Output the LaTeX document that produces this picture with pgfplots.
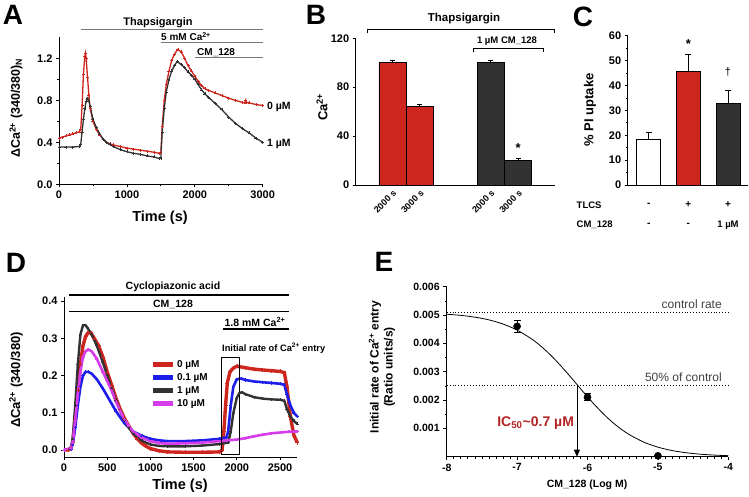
\documentclass[border=0pt]{standalone}
\usepackage{pgfplots}
\pgfplotsset{compat=1.18}
\usepackage{fontspec}
\setmainfont{Liberation Sans}
\usetikzlibrary{arrows.meta}
\definecolor{cred}{RGB}{205,38,30}
\definecolor{cdark}{RGB}{50,50,50}
\definecolor{cblue}{RGB}{30,30,235}
\definecolor{cmag}{RGB}{215,60,235}
\definecolor{cline}{RGB}{120,120,120}
\definecolor{icred}{RGB}{180,35,35}
\pgfplotsset{
  panel/.style={scale only axis, axis lines=left, axis line style={-, line width=0.8pt},
    tick align=outside, tick style={line width=0.7pt, black},
    major tick length=3pt, minor tick length=2pt,
    /pgf/number format/assume math mode=true,
    ticklabel style={font=\bfseries\fontsize{11}{11}\selectfont},
    clip=false},
}
\begin{document}
\begin{tikzpicture}[x=1pt,y=1pt]
\path[use as bounding box] (0,0) rectangle (749,497);
% ---------------- Panel letters
\node[font=\bfseries\fontsize{28}{28}\selectfont] at (13,482) {A};
\node[font=\bfseries\fontsize{28}{28}\selectfont] at (316,482) {B};
\node[font=\bfseries\fontsize{28}{28}\selectfont] at (583,480) {C};
\node[font=\bfseries\fontsize{28}{28}\selectfont] at (16,234) {D};
\node[font=\bfseries\fontsize{28}{28}\selectfont] at (384,235) {E};
% ---------------- Panel A
\begin{axis}[panel, at={(59pt,312.7pt)}, anchor=south west, width=203.7pt, height=147pt,
  xmin=0, xmax=3000, ymin=0, ymax=1.4,
  xtick={0,1000,2000,3000}, minor x tick num=1,
  ytick={0,0.4,0.8,1.2}, minor y tick num=1,
  yticklabel style={/pgf/number format/.cd, fixed, fixed zerofill, precision=1},
  xticklabel style={/pgf/number format/.cd, set thousands separator={}}]
\addplot[cred, line width=1.3pt, mark=+, mark size=1.5pt, mark options={line width=0.5pt}] table {
0 0.44
50 0.45
100 0.46
150 0.47
200 0.48
250 0.49
300 0.50
320 0.52
340 0.75
360 1.05
380 1.22
390 1.25
400 1.20
420 1.02
440 0.85
460 0.72
500 0.60
550 0.52
600 0.47
650 0.43
700 0.40
750 0.385
800 0.375
900 0.36
1000 0.345
1100 0.335
1200 0.325
1300 0.315
1400 0.305
1480 0.295
1500 0.30
1520 0.55
1550 0.80
1580 0.95
1620 1.08
1660 1.18
1700 1.24
1750 1.285
1800 1.26
1850 1.20
1900 1.13
1950 1.08
2000 1.03
2050 0.98
2100 0.94
2150 0.91
2200 0.895
2300 0.87
2400 0.845
2500 0.82
2600 0.80
2700 0.78
2740 0.775
2750 0.80
2760 0.78
2800 0.775
2900 0.76
3000 0.75
};
\addplot[cdark, line width=1.3pt, mark=+, mark size=1.5pt, mark options={line width=0.5pt}] table {
0 0.355
100 0.355
200 0.355
300 0.36
320 0.38
340 0.50
360 0.62
380 0.72
400 0.79
415 0.82
440 0.79
460 0.74
500 0.62
550 0.54
600 0.48
650 0.43
700 0.40
750 0.38
800 0.36
900 0.33
1000 0.31
1100 0.295
1200 0.285
1300 0.27
1400 0.26
1480 0.245
1500 0.25
1520 0.50
1550 0.72
1580 0.88
1620 1.00
1660 1.08
1700 1.13
1740 1.17
1800 1.14
1850 1.11
1900 1.07
1950 1.04
2000 1.00
2050 0.95
2100 0.90
2150 0.86
2200 0.83
2300 0.77
2400 0.71
2500 0.64
2600 0.58
2700 0.53
2800 0.49
2900 0.44
3000 0.40
};
\end{axis}
\node[rotate=90, font=\bfseries\fontsize{12.5}{12.5}\selectfont] at (16,389) {Δ\kern-0.5ptCa\textsuperscript{2+} (340/380)\textsubscript{N}};
\node[font=\bfseries\fontsize{14.5}{14.5}\selectfont] at (160,279) {Time (s)};
\draw[cline, line width=1.2pt] (81,467.7) -- (263,467.7);
\node[font=\bfseries\fontsize{11}{11}\selectfont] at (158,474.5) {Thapsigargin};
\draw[cline, line width=1.2pt] (161,454.7) -- (263,454.7);
\node[anchor=west, inner sep=0pt, font=\bfseries\fontsize{10}{10}\selectfont] at (161,460.5) {5 mM Ca\textsuperscript{2+}};
\draw[cline, line width=1.2pt] (195,439.3) -- (263,439.3);
\node[anchor=west, inner sep=0pt, font=\bfseries\fontsize{10}{10}\selectfont] at (197,444.5) {CM\_128};
\node[anchor=west, inner sep=0pt, font=\bfseries\fontsize{10.5}{10.5}\selectfont] at (267,390) {0 µM};
\node[anchor=west, inner sep=0pt, font=\bfseries\fontsize{10.5}{10.5}\selectfont] at (267,353) {1 µM};
% ---------------- Panel B
\begin{axis}[panel, at={(355.7pt,312pt)}, anchor=south west, width=199.3pt, height=146.7pt,
  xmin=0, xmax=7.3, ymin=0, ymax=120, ytick={0,40,80,120},
  xtick={1.35,2.35,4.95,5.95}, xticklabels={2000 s,3000 s,2000 s,3000 s},
  xtick style={draw=none},
  xticklabel style={rotate=45, anchor=north east, font=\bfseries\fontsize{9}{9}\selectfont, inner sep=1pt},
  ybar, bar width=1, bar shift=0pt,
  error bars/y dir=plus, error bars/y explicit,
  error bars/error bar style={line width=0.8pt, black},
  error bars/error mark options={rotate=90, mark size=2.5pt, line width=0.8pt}]
\addplot[draw=black, line width=0.8pt, fill=cred] coordinates {(1.35,100) +- (0,2) (2.35,64) +- (0,1.8)};
\addplot[draw=black, line width=0.8pt, fill=cdark] coordinates {(4.95,100) +- (0,1.8) (5.95,20) +- (0,2)};
\node[font=\bfseries\fontsize{13}{13}\selectfont] at (axis cs:5.95,30) {*};
\end{axis}
\node[rotate=90, font=\bfseries\fontsize{13}{13}\selectfont] at (322,390) {Ca\textsuperscript{2+}};
\draw[black, line width=0.8pt] (367.7,463.7) -- (367.7,467.7) -- (554.3,467.7) -- (554.3,463.7);
\node[font=\bfseries\fontsize{11.5}{11.5}\selectfont] at (464,478) {Thapsigargin};
\draw[black, line width=0.8pt] (473.3,445.3) -- (473.3,448.5) -- (543.3,448.5) -- (543.3,445.3);
\node[font=\bfseries\fontsize{9.5}{9.5}\selectfont] at (507,455.5) {1 µM CM\_128};
% ---------------- Panel C
\begin{axis}[panel, at={(627.7pt,312pt)}, anchor=south west, width=120.3pt, height=149.3pt,
  xmin=0, xmax=120.3, ymin=0, ymax=60, ytick={0,10,...,60}, minor y tick num=1,
  xtick=\empty,
  ybar, bar width=24, bar shift=0pt,
  error bars/y dir=plus, error bars/y explicit,
  error bars/error bar style={line width=0.8pt, black},
  error bars/error mark options={rotate=90, mark size=3pt, line width=0.8pt}]
\addplot[draw=black, line width=0.8pt, fill=white] coordinates {(21,18.2) +- (0,2.8)};
\addplot[draw=black, line width=0.8pt, fill=cred] coordinates {(60.6,45.5) +- (0,6.8)};
\addplot[draw=black, line width=0.8pt, fill=cdark] coordinates {(100.3,32.7) +- (0,5.3)};
\node[font=\bfseries\fontsize{13}{13}\selectfont] at (axis cs:60.6,56.5) {*};
\node[font=\fontsize{11}{11}\selectfont] at (axis cs:100.3,45.5) {\dag};
\end{axis}
\node[rotate=90, font=\bfseries\fontsize{13}{13}\selectfont] at (590,387) {\% PI uptake};
\node[anchor=west, inner sep=0pt, font=\bfseries\fontsize{9.5}{9.5}\selectfont] at (576.5,292) {TLCS};
\node[anchor=west, inner sep=0pt, font=\bfseries\fontsize{9.5}{9.5}\selectfont] at (576.5,272) {CM\_128};
\node[font=\bfseries\fontsize{10}{10}\selectfont] at (648.7,292) {-};
\node[font=\bfseries\fontsize{10}{10}\selectfont] at (688.3,292) {+};
\node[font=\bfseries\fontsize{10}{10}\selectfont] at (728,292) {+};
\node[font=\bfseries\fontsize{10}{10}\selectfont] at (648.7,272) {-};
\node[font=\bfseries\fontsize{10}{10}\selectfont] at (688.3,272) {-};
\node[font=\bfseries\fontsize{9.5}{9.5}\selectfont] at (728,272) {1 µM};
% ---------------- Panel D
\begin{axis}[panel, at={(64pt,39.5pt)}, anchor=south west, width=233.3pt, height=160.2pt,
  xmin=0, xmax=2700, ymin=-0.02, ymax=0.41,
  xtick={0,500,...,2500}, ytick={0,0.1,...,0.4},
  yticklabel style={/pgf/number format/.cd, fixed, fixed zerofill, precision=1},
  xticklabel style={/pgf/number format/.cd, set thousands separator={}},
  legend style={draw=none, fill=none, at={(0.37,0.62)}, anchor=north west,
    font=\bfseries\fontsize{10}{10}\selectfont, row sep=0.5pt, inner sep=0pt,
    /tikz/every even column/.append style={column sep=3pt}},
  legend cell align=left,
  legend image code/.code={\draw[#1, line width=4.5pt, mark=none] (0pt,0pt) -- (20pt,0pt);}]
\addplot[cred, line width=3.4pt, mark=+, mark size=2pt, mark options={line width=0.5pt}] table {
0 0.0
50 0.0
80 0.005
100 0.02
130 0.08
160 0.16
190 0.23
220 0.28
250 0.305
280 0.315
310 0.315
350 0.30
400 0.28
450 0.25
500 0.21
550 0.175
600 0.14
650 0.11
700 0.085
750 0.065
800 0.045
850 0.03
900 0.018
950 0.01
1000 0.004
1100 -0.002
1200 -0.005
1400 -0.006
1600 -0.006
1800 -0.005
1830 0.0
1850 0.05
1870 0.12
1890 0.18
1920 0.21
1960 0.22
2000 0.225
2100 0.221
2200 0.217
2300 0.215
2400 0.213
2500 0.211
2550 0.208
2580 0.17
2620 0.09
2660 0.04
2700 0.02
};
\addlegendentry{0 µM}
\addplot[cblue, line width=2.6pt, mark=+, mark size=1.6pt, mark options={line width=0.5pt}] table {
0 0
80 0.003
100 0.015
130 0.06
160 0.12
190 0.17
220 0.2
250 0.21
280 0.21
320 0.205
380 0.19
450 0.165
500 0.145
550 0.125
600 0.105
650 0.088
700 0.072
750 0.06
800 0.05
900 0.038
1000 0.03
1100 0.026
1200 0.024
1400 0.024
1600 0.026
1800 0.03
1880 0.034
1900 0.05
1930 0.12
1960 0.17
2000 0.19
2050 0.192
2100 0.188
2200 0.184
2300 0.182
2400 0.18
2500 0.178
2550 0.175
2580 0.15
2620 0.12
2660 0.10
2700 0.09
};
\addlegendentry{0.1 µM}
\addplot[cdark, line width=2.4pt, mark=+, mark size=1.5pt, mark options={line width=0.5pt}] table {
0 0
80 0.005
100 0.03
130 0.12
160 0.23
190 0.31
220 0.335
250 0.335
280 0.325
320 0.31
380 0.28
450 0.235
500 0.2
550 0.165
600 0.135
650 0.105
700 0.08
750 0.06
800 0.045
900 0.025
1000 0.015
1100 0.011
1200 0.01
1400 0.01
1600 0.012
1800 0.016
1900 0.02
1930 0.05
1960 0.1
2000 0.14
2030 0.153
2060 0.155
2100 0.15
2200 0.142
2300 0.138
2400 0.136
2500 0.135
2550 0.132
2580 0.11
2620 0.09
2660 0.078
2700 0.07
};
\addlegendentry{1 µM}
\addplot[cmag, line width=2.6pt, mark=+, mark size=1.6pt, mark options={line width=0.5pt}] table {
0 0
80 0.004
100 0.02
130 0.08
160 0.15
190 0.21
220 0.25
250 0.265
280 0.27
320 0.265
380 0.245
450 0.21
500 0.185
550 0.16
600 0.13
650 0.105
700 0.083
750 0.065
800 0.05
900 0.033
1000 0.024
1100 0.019
1200 0.017
1400 0.018
1600 0.02
1800 0.024
2000 0.028
2100 0.032
2200 0.037
2300 0.041
2400 0.045
2500 0.047
2600 0.049
2700 0.05
};
\addlegendentry{10 µM}
\draw[black, line width=0.8pt] (axis cs:1820,-0.011) rectangle (axis cs:2030,0.25);
\end{axis}
\node[rotate=90, font=\bfseries\fontsize{13}{13}\selectfont] at (16,117) {Δ\kern-0.5ptCa\textsuperscript{2+} (340/380)};
\node[font=\bfseries\fontsize{14.5}{14.5}\selectfont] at (180,11) {Time (s)};
\draw[black, line width=1.2pt] (69.3,202) -- (289.3,202);
\node[font=\bfseries\fontsize{10.5}{10.5}\selectfont] at (173,210) {Cyclopiazonic acid};
\draw[black, line width=1.2pt] (69.3,185.3) -- (289.3,185.3);
\node[font=\bfseries\fontsize{10.5}{10.5}\selectfont] at (173,193) {CM\_128};
\draw[black, line width=1.2pt] (222.7,168) -- (289.3,168);
\node[font=\bfseries\fontsize{10.5}{10.5}\selectfont] at (255,175) {1.8 mM Ca\textsuperscript{2+}};
\node[anchor=west, inner sep=0pt, font=\bfseries\fontsize{9.3}{9.3}\selectfont] at (222,148.7) {Initial rate of Ca\textsuperscript{2+} entry};
% ---------------- Panel E
\begin{axis}[panel, at={(446.7pt,40.3pt)}, anchor=south west, width=281.6pt, height=170pt,
  xmin=-8, xmax=-4, ymin=0, ymax=0.006,
  xtick={-8,-7,-6,-5,-4}, minor x tick num=9,
  ytick={0.001,0.002,0.003,0.004,0.005,0.006}, minor y tick num=1,
  scaled y ticks=false,
  ticklabel style={font=\bfseries\fontsize{10.5}{10.5}\selectfont},
  yticklabel style={/pgf/number format/.cd, fixed, fixed zerofill, precision=3},
  minor tick length=2pt, major tick length=3.5pt]
\addplot[black, dotted, line width=0.9pt] coordinates {(-8,0.0051) (-4,0.0051)};
\addplot[black, dotted, line width=0.9pt] coordinates {(-8,0.0025) (-4,0.0025)};
\addplot[black, line width=0.8pt, smooth] coordinates {
(-8.0,0.005029) (-7.8,0.004988) (-7.6,0.004925) (-7.4,0.004829) (-7.2,0.004683)
(-7.0,0.004469) (-6.8,0.004167) (-6.7,0.003979) (-6.6,0.003764) (-6.5,0.003525)
(-6.4,0.003264) (-6.3,0.002986) (-6.2,0.002697) (-6.1,0.002403) (-6.0,0.002114)
(-5.9,0.001836) (-5.8,0.001575) (-5.7,0.001336) (-5.6,0.001121) (-5.5,0.000933)
(-5.4,0.000770) (-5.2,0.000514) (-5.0,0.000337) (-4.8,0.000218) (-4.6,0.000140)
(-4.4,0.0000891) (-4.2,0.0000566) (-4.0,0.0000359)};
\addplot[black, only marks, mark=*, mark size=3.6pt,
  error bars/.cd, y dir=both, y explicit,
  error bar style={line width=0.8pt},
  error mark options={rotate=90, mark size=3.5pt, line width=0.8pt}]
  coordinates {(-7,0.0046) +- (0,0.00022) (-6,0.0021) +- (0,0.00013) (-5,0.00003) +- (0,0.00003)};
\draw[black, line width=0.8pt, -{Triangle[width=6pt,length=7pt]}] (axis cs:-6.15,0.0025) -- (axis cs:-6.15,0.0);
\node[anchor=east, inner sep=0pt, text=black!75, font=\fontsize{12}{12}\selectfont] at (axis cs:-4.09,0.00539) {control rate};
\node[anchor=east, inner sep=0pt, text=black!75, font=\fontsize{12}{12}\selectfont] at (axis cs:-4.09,0.0028) {50\% of control};
\node[anchor=east, inner sep=0pt, text=icred, font=\bfseries\fontsize{14}{14}\selectfont] at (axis cs:-6.19,0.00118) {IC\textsubscript{50}\textasciitilde0.7 µM};
\end{axis}
\node[rotate=90, align=center, font=\bfseries\fontsize{12}{14}\selectfont] at (382,130) {Initial rate of Ca\textsuperscript{2+} entry\\(Ratio units/s)};
\node[font=\bfseries\fontsize{10.5}{10.5}\selectfont] at (587,12) {CM\_128 (Log M)};
\end{tikzpicture}
\end{document}
